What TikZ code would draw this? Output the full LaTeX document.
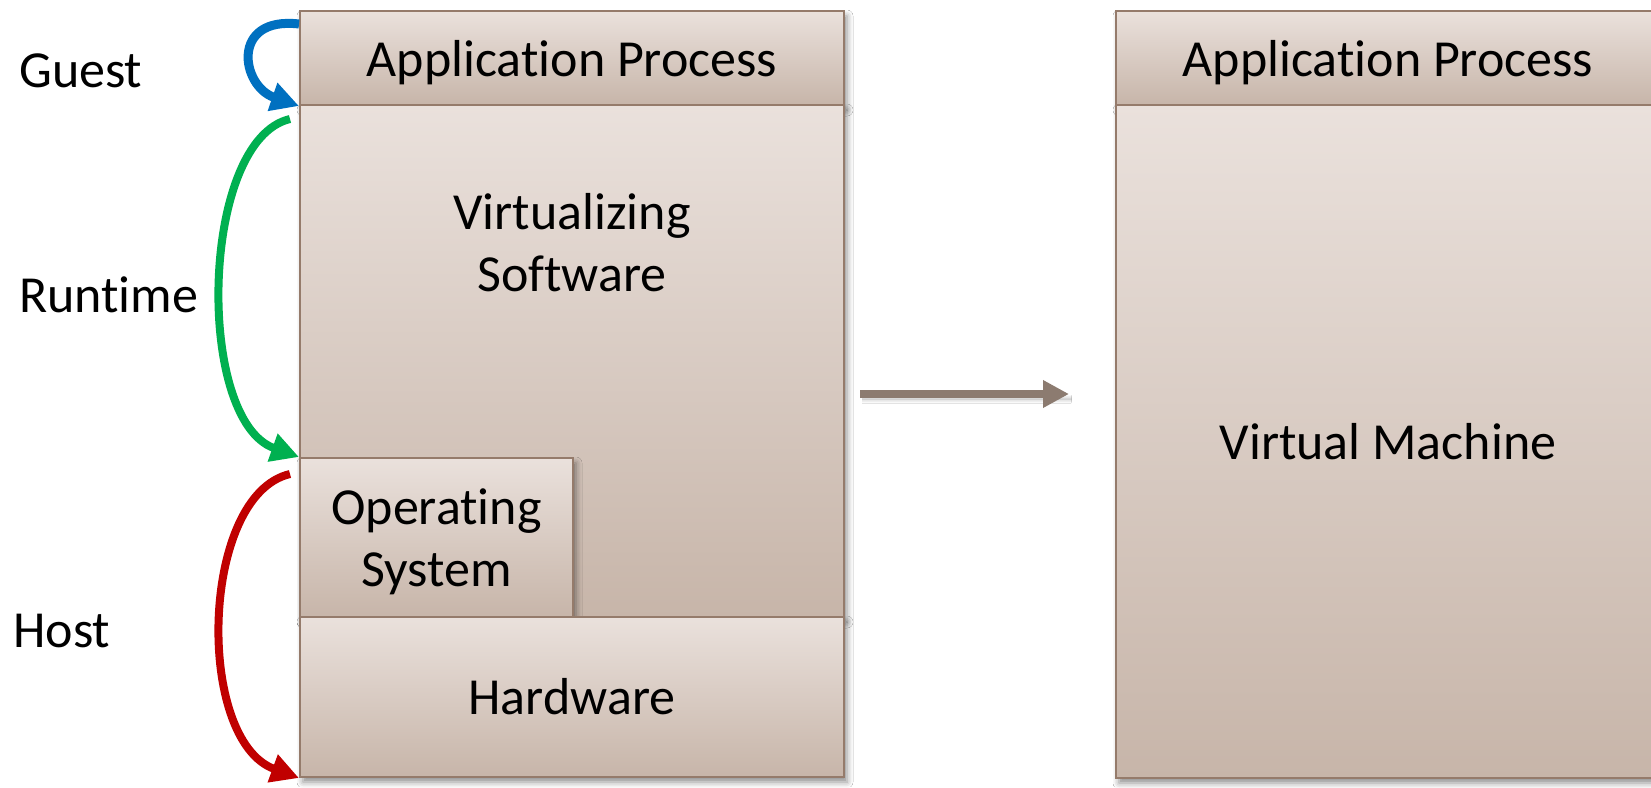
\documentclass[tikz,border=0pt]{standalone}
\usepackage{fontspec}
\setmainfont{Carlito}[RawFeature={-liga;-clig;-dlig}]
\usetikzlibrary{arrows.meta,shadows.blur}
\definecolor{boxtop}{HTML}{EAE1DC}
\definecolor{boxbot}{HTML}{C7B5A9}
\definecolor{boxline}{HTML}{957B6B}
\definecolor{gblue}{HTML}{0070C0}
\definecolor{ggreen}{HTML}{00B050}
\definecolor{gred}{HTML}{C00000}
\definecolor{garrow}{HTML}{8C7B70}
\tikzset{
  layer/.style={rectangle, draw=boxline, line width=2pt, top color=boxtop, bottom color=boxbot,
    anchor=north west, inner sep=0pt, font=\fontsize{52}{62}\selectfont, align=center,
    blur shadow={shadow xshift=3pt, shadow yshift=-5pt, shadow blur radius=6pt, shadow opacity=45}},
  txt/.style={font=\fontsize{52}{62}\selectfont, align=center, inner sep=0pt},
  lbl/.style={anchor=base west, font=\fontsize{52}{62}\selectfont, inner sep=0pt},
  loopline/.style={line width=8pt, -{Triangle[length=28pt,width=28pt]}},
}
\begin{document}
\begin{tikzpicture}[x=1pt,y=-1pt]
\clip (0,0) rectangle (1651,787);
\fill[white] (0,0) rectangle (1651,787);
% left stack
\node[layer, minimum width=544pt, minimum height=94pt, text depth=0pt] (app1) at (299,10) {Application Process};
\node[layer, minimum width=544pt, minimum height=512pt] (virt) at (299,104) {};
\node[txt] (virttext) at (572,243) {Virtualizing\\Software};
\node[layer, minimum width=273pt, minimum height=159pt, text depth=0pt] (os) at (299,457) {Operating\\System};
\node[layer, minimum width=544pt, minimum height=160pt] (hw) at (299,616) {Hardware};
% right stack
\node[layer, minimum width=544pt, minimum height=94pt, text depth=0pt] (app2) at (1115,10) {Application Process};
\node[layer, minimum width=544pt, minimum height=673pt] (vm) at (1115,104) {Virtual Machine};
% labels
\node[lbl] (guest) at (19,87) {Guest};
\node[lbl] (runtime) at (19,312) {Runtime};
\node[lbl] (host) at (13,647) {Host};
% loops
\coordinate (gs) at (299,24);
\coordinate (rs) at (290,119);
\coordinate (hs) at (290,474);
\draw[loopline, gblue, line width=9pt] (gs) .. controls (230,16) and (241,86) .. (app1.south west);
\draw[loopline, ggreen] (rs) .. controls (200,140) and (195,420) .. (os.north west);
\draw[loopline, gred] (hs) .. controls (200,495) and (195,740) .. (hw.south west);
% middle arrow
\coordinate (ma) at (860,394);
\coordinate (mb) at (1069,394);
\draw[garrow, line width=8pt, -{Triangle[length=26pt,width=26pt]},
  blur shadow={shadow xshift=2pt, shadow yshift=-5pt, shadow blur radius=4pt, shadow opacity=35}] (ma) -- (mb);
\end{tikzpicture}
\end{document}
